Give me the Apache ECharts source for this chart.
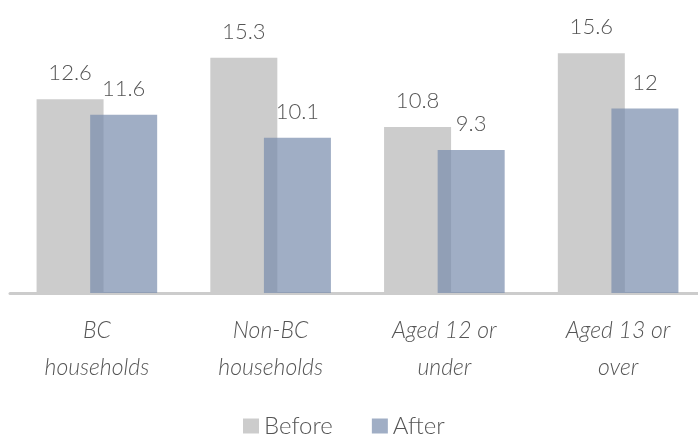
<!DOCTYPE html>
<html>
<head>
<meta charset="utf-8">
<script src="https://cdn.jsdelivr.net/npm/echarts@6/dist/echarts.min.js"></script>
<style>html,body{margin:0;padding:0;background:#fff}#c{width:698px;height:438px}</style>
</head>
<body>
<div id="c"></div>
<script>
const categories = ['BC\nhouseholds', 'Non-BC\nhouseholds', 'Aged 12 or\nunder', 'Aged 13 or\nover'];
const before = [12.6, 15.3, 10.8, 15.6];
const after = [11.6, 10.1, 9.3, 12];
const seriesNames = ['Before', 'After'];

const FONT = 'Lato';
const chart = echarts.init(document.getElementById('c'), null, {renderer: 'canvas'});
const labelStyle = {show: true, position: 'top', distance: 15, color: '#555', fontSize: 22, fontFamily: FONT, fontWeight: 300};
chart.setOption({
  animation: false,
  grid: {left: 10, width: 695, top: 47, height: 246, outerBoundsMode: 'none', containLabel: false},
  legend: {
    data: seriesNames,
    top: 409,
    left: 238,
    itemWidth: 16, itemHeight: 15, itemGap: 39,
    icon: 'rect',
    textStyle: {fontSize: 24, color: '#555', fontFamily: FONT, fontWeight: 300}
  },
  xAxis: {
    type: 'category',
    data: categories,
    axisLine: {lineStyle: {color: '#cccccc', width: 3}},
    axisTick: {show: false},
    axisLabel: {fontSize: 23, fontStyle: 'italic', color: '#555', fontFamily: FONT, fontWeight: 300, lineHeight: 37, margin: 19}
  },
  yAxis: {type: 'value', min: 0, max: 16, show: false, splitLine: {show: false}},
  series: [
    {name: 'Before', type: 'bar', data: before, barWidth: 67, barGap: '-20%',
     itemStyle: {color: '#cccccc'}, label: labelStyle},
    {name: 'After', type: 'bar', data: after, barWidth: 67,
     itemStyle: {color: 'rgba(120,140,172,0.7)'}, label: labelStyle}
  ]
});
</script>
</body>
</html>
